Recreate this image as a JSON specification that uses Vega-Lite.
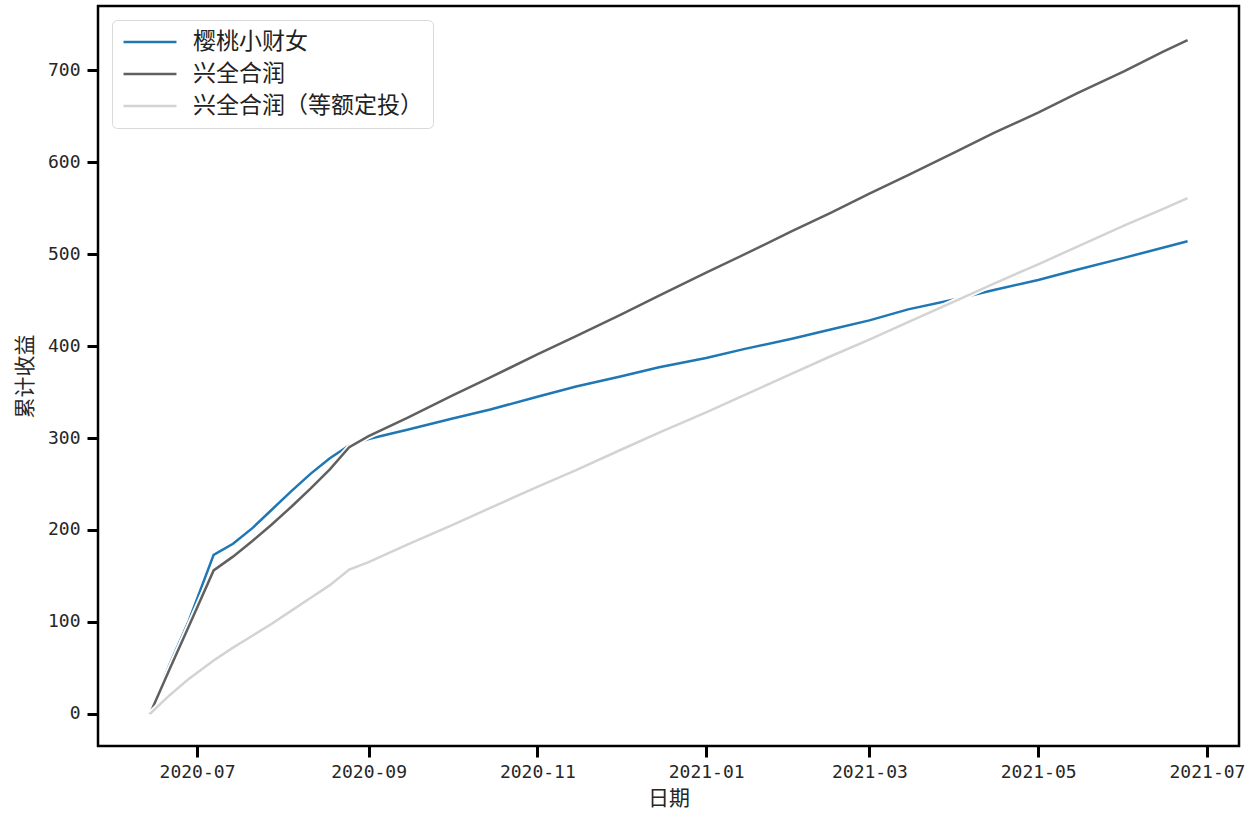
{
  "$schema": "https://vega.github.io/schema/vega-lite/v6.json",
  "autosize": "none",
  "width": 1141,
  "height": 740,
  "padding": {"left": 98, "top": 6, "right": 15, "bottom": 70},
  "background": "white",
  "datasets": {
    "rows": [
      {"date": "2020-06-14", "s": "樱桃小财女", "v": 0},
      {"date": "2020-06-21", "s": "樱桃小财女", "v": 53},
      {"date": "2020-06-28", "s": "樱桃小财女", "v": 101},
      {"date": "2020-07-07", "s": "樱桃小财女", "v": 173},
      {"date": "2020-07-14", "s": "樱桃小财女", "v": 185},
      {"date": "2020-07-21", "s": "樱桃小财女", "v": 202},
      {"date": "2020-07-28", "s": "樱桃小财女", "v": 222},
      {"date": "2020-08-04", "s": "樱桃小财女", "v": 242},
      {"date": "2020-08-11", "s": "樱桃小财女", "v": 261},
      {"date": "2020-08-18", "s": "樱桃小财女", "v": 278},
      {"date": "2020-08-25", "s": "樱桃小财女", "v": 292},
      {"date": "2020-09-01", "s": "樱桃小财女", "v": 299},
      {"date": "2020-09-15", "s": "樱桃小财女", "v": 309},
      {"date": "2020-10-01", "s": "樱桃小财女", "v": 321},
      {"date": "2020-10-15", "s": "樱桃小财女", "v": 331},
      {"date": "2020-11-01", "s": "樱桃小财女", "v": 345},
      {"date": "2020-11-15", "s": "樱桃小财女", "v": 356},
      {"date": "2020-12-01", "s": "樱桃小财女", "v": 367},
      {"date": "2020-12-15", "s": "樱桃小财女", "v": 377},
      {"date": "2021-01-01", "s": "樱桃小财女", "v": 387},
      {"date": "2021-01-15", "s": "樱桃小财女", "v": 397},
      {"date": "2021-02-01", "s": "樱桃小财女", "v": 408},
      {"date": "2021-02-15", "s": "樱桃小财女", "v": 418},
      {"date": "2021-03-01", "s": "樱桃小财女", "v": 428},
      {"date": "2021-03-15", "s": "樱桃小财女", "v": 440},
      {"date": "2021-04-01", "s": "樱桃小财女", "v": 451},
      {"date": "2021-04-15", "s": "樱桃小财女", "v": 461},
      {"date": "2021-05-01", "s": "樱桃小财女", "v": 472},
      {"date": "2021-05-15", "s": "樱桃小财女", "v": 483},
      {"date": "2021-06-01", "s": "樱桃小财女", "v": 496},
      {"date": "2021-06-15", "s": "樱桃小财女", "v": 507},
      {"date": "2021-06-24", "s": "樱桃小财女", "v": 514},
      {"date": "2020-06-14", "s": "兴全合润", "v": 0},
      {"date": "2020-06-21", "s": "兴全合润", "v": 48},
      {"date": "2020-06-28", "s": "兴全合润", "v": 95},
      {"date": "2020-07-07", "s": "兴全合润", "v": 156},
      {"date": "2020-07-14", "s": "兴全合润", "v": 171},
      {"date": "2020-07-21", "s": "兴全合润", "v": 188},
      {"date": "2020-07-28", "s": "兴全合润", "v": 206},
      {"date": "2020-08-04", "s": "兴全合润", "v": 225},
      {"date": "2020-08-11", "s": "兴全合润", "v": 245},
      {"date": "2020-08-18", "s": "兴全合润", "v": 266},
      {"date": "2020-08-25", "s": "兴全合润", "v": 290},
      {"date": "2020-09-01", "s": "兴全合润", "v": 302},
      {"date": "2020-09-15", "s": "兴全合润", "v": 322},
      {"date": "2020-10-01", "s": "兴全合润", "v": 346},
      {"date": "2020-10-15", "s": "兴全合润", "v": 366},
      {"date": "2020-11-01", "s": "兴全合润", "v": 391},
      {"date": "2020-11-15", "s": "兴全合润", "v": 411},
      {"date": "2020-12-01", "s": "兴全合润", "v": 434},
      {"date": "2020-12-15", "s": "兴全合润", "v": 455},
      {"date": "2021-01-01", "s": "兴全合润", "v": 480},
      {"date": "2021-01-15", "s": "兴全合润", "v": 500},
      {"date": "2021-02-01", "s": "兴全合润", "v": 525},
      {"date": "2021-02-15", "s": "兴全合润", "v": 545},
      {"date": "2021-03-01", "s": "兴全合润", "v": 566},
      {"date": "2021-03-15", "s": "兴全合润", "v": 586},
      {"date": "2021-04-01", "s": "兴全合润", "v": 611},
      {"date": "2021-04-15", "s": "兴全合润", "v": 632},
      {"date": "2021-05-01", "s": "兴全合润", "v": 654},
      {"date": "2021-05-15", "s": "兴全合润", "v": 675},
      {"date": "2021-06-01", "s": "兴全合润", "v": 699},
      {"date": "2021-06-15", "s": "兴全合润", "v": 720},
      {"date": "2021-06-24", "s": "兴全合润", "v": 733},
      {"date": "2020-06-14", "s": "兴全合润（等额定投）", "v": 0},
      {"date": "2020-06-21", "s": "兴全合润（等额定投）", "v": 20},
      {"date": "2020-06-28", "s": "兴全合润（等额定投）", "v": 38},
      {"date": "2020-07-07", "s": "兴全合润（等额定投）", "v": 58},
      {"date": "2020-07-14", "s": "兴全合润（等额定投）", "v": 72},
      {"date": "2020-07-21", "s": "兴全合润（等额定投）", "v": 85},
      {"date": "2020-07-28", "s": "兴全合润（等额定投）", "v": 98},
      {"date": "2020-08-04", "s": "兴全合润（等额定投）", "v": 112},
      {"date": "2020-08-11", "s": "兴全合润（等额定投）", "v": 126},
      {"date": "2020-08-18", "s": "兴全合润（等额定投）", "v": 140},
      {"date": "2020-08-25", "s": "兴全合润（等额定投）", "v": 157},
      {"date": "2020-09-01", "s": "兴全合润（等额定投）", "v": 165},
      {"date": "2020-09-15", "s": "兴全合润（等额定投）", "v": 184},
      {"date": "2020-10-01", "s": "兴全合润（等额定投）", "v": 205},
      {"date": "2020-10-15", "s": "兴全合润（等额定投）", "v": 224},
      {"date": "2020-11-01", "s": "兴全合润（等额定投）", "v": 247},
      {"date": "2020-11-15", "s": "兴全合润（等额定投）", "v": 265},
      {"date": "2020-12-01", "s": "兴全合润（等额定投）", "v": 287},
      {"date": "2020-12-15", "s": "兴全合润（等额定投）", "v": 306},
      {"date": "2021-01-01", "s": "兴全合润（等额定投）", "v": 328},
      {"date": "2021-01-15", "s": "兴全合润（等额定投）", "v": 347},
      {"date": "2021-02-01", "s": "兴全合润（等额定投）", "v": 370},
      {"date": "2021-02-15", "s": "兴全合润（等额定投）", "v": 389},
      {"date": "2021-03-01", "s": "兴全合润（等额定投）", "v": 407},
      {"date": "2021-03-15", "s": "兴全合润（等额定投）", "v": 426},
      {"date": "2021-04-01", "s": "兴全合润（等额定投）", "v": 449},
      {"date": "2021-04-15", "s": "兴全合润（等额定投）", "v": 468},
      {"date": "2021-05-01", "s": "兴全合润（等额定投）", "v": 489},
      {"date": "2021-05-15", "s": "兴全合润（等额定投）", "v": 508},
      {"date": "2021-06-01", "s": "兴全合润（等额定投）", "v": 531},
      {"date": "2021-06-15", "s": "兴全合润（等额定投）", "v": 549},
      {"date": "2021-06-24", "s": "兴全合润（等额定投）", "v": 561}
    ]
  },
  "data": {"name": "rows"},
  "encoding": {
    "x": {
      "field": "date",
      "type": "temporal",
      "scale": {
        "type": "utc",
        "domain": [
          {"year": 2020, "month": 5, "date": 26, "hours": 5, "utc": true},
          {"year": 2021, "month": 7, "date": 12, "hours": 14, "utc": true}
        ],
        "nice": false
      },
      "axis": {
        "title": "日期",
        "format": "%Y-%m",
        "values": [
          {"year": 2020, "month": 7, "date": 1, "utc": true},
          {"year": 2020, "month": 9, "date": 1, "utc": true},
          {"year": 2020, "month": 11, "date": 1, "utc": true},
          {"year": 2021, "month": 1, "date": 1, "utc": true},
          {"year": 2021, "month": 3, "date": 1, "utc": true},
          {"year": 2021, "month": 5, "date": 1, "utc": true},
          {"year": 2021, "month": 7, "date": 1, "utc": true}
        ],
        "grid": false,
        "domain": false,
        "tickColor": "black",
        "tickWidth": 3,
        "tickSize": 11,
        "labelFont": "DejaVu Sans Mono",
        "labelFontSize": 18,
        "labelColor": "#262626",
        "labelPadding": 6,
        "labelFlush": false,
        "labelOverlap": false,
        "titleFont": "Noto Sans CJK SC",
        "titleFontSize": 21,
        "titleFontWeight": "normal",
        "titleColor": "#262626",
        "titlePadding": 6
      }
    },
    "y": {
      "field": "v",
      "type": "quantitative",
      "scale": {"domain": [-35, 770], "nice": false, "zero": false},
      "axis": {
        "title": "累计收益",
        "values": [0, 100, 200, 300, 400, 500, 600, 700],
        "grid": false,
        "domain": false,
        "tickColor": "black",
        "tickWidth": 3,
        "tickSize": 11,
        "labelFont": "DejaVu Sans Mono",
        "labelFontSize": 18,
        "labelColor": "#262626",
        "labelPadding": 7,
        "titleFont": "Noto Sans CJK SC",
        "titleFontSize": 21,
        "titleFontWeight": "normal",
        "titleColor": "#262626",
        "titlePadding": 12
      }
    }
  },
  "layer": [
    {
      "transform": [{"filter": "datum.s === '樱桃小财女'"}],
      "mark": {"type": "line", "color": "white", "strokeWidth": 6}
    },
    {
      "transform": [{"filter": "datum.s === '樱桃小财女'"}],
      "mark": {"type": "line", "strokeWidth": 2.5},
      "encoding": {"color": {"field": "s", "type": "nominal"}}
    },
    {
      "transform": [{"filter": "datum.s === '兴全合润'"}],
      "mark": {"type": "line", "color": "white", "strokeWidth": 6}
    },
    {
      "transform": [{"filter": "datum.s === '兴全合润'"}],
      "mark": {"type": "line", "strokeWidth": 2.5},
      "encoding": {"color": {"field": "s", "type": "nominal"}}
    },
    {
      "transform": [{"filter": "datum.s === '兴全合润（等额定投）'"}],
      "mark": {"type": "line", "color": "white", "strokeWidth": 6}
    },
    {
      "transform": [{"filter": "datum.s === '兴全合润（等额定投）'"}],
      "mark": {"type": "line", "strokeWidth": 2.5},
      "encoding": {
        "color": {
          "field": "s",
          "type": "nominal",
          "scale": {
            "domain": ["樱桃小财女", "兴全合润", "兴全合润（等额定投）"],
            "range": ["#1f77b4", "#606060", "#d3d3d3"]
          },
          "legend": {
            "title": null,
            "orient": "none",
            "legendX": 14,
            "legendY": 14,
            "symbolType": "stroke",
            "symbolSize": 2800,
            "symbolStrokeWidth": 2.5,
            "labelFont": "Noto Sans CJK SC",
            "labelFontSize": 23,
            "labelColor": "#222222",
            "labelOffset": 15,
            "labelLimit": 400,
            "strokeColor": "#d9d9d9",
            "fillColor": "white",
            "padding": 10,
            "cornerRadius": 5,
            "clipHeight": 24,
            "rowPadding": 8
          }
        }
      }
    }
  ],
  "config": {
    "view": {"stroke": "black", "strokeWidth": 2.5}
  }
}
